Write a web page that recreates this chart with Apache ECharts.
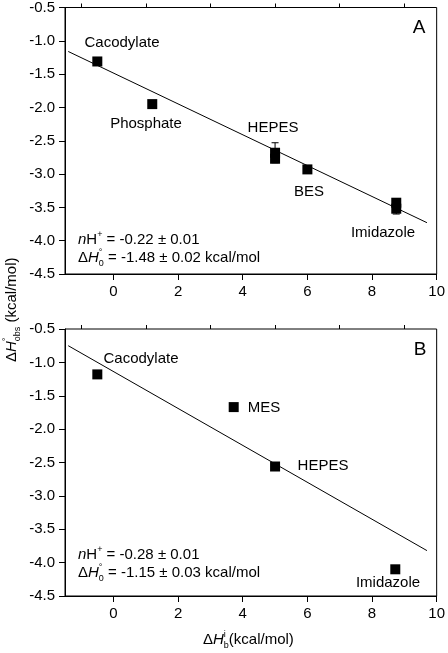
<!DOCTYPE html>
<html><head><meta charset="utf-8">
<script src="https://cdn.jsdelivr.net/npm/echarts@6/dist/echarts.min.js"></script>
<style>html,body{margin:0;padding:0;background:#fff}#c{width:448px;height:653px}</style>
</head><body><div id="c"></div>
<script>
// ---- data ----
const xTickValues = [0, 2, 4, 6, 8, 10];
const xMinorValues = [-1, 1, 3, 5, 7, 9];
const yTickMin = -4.5, yTickMax = -0.5, yTickStep = 0.5;
const xMin = -1.5, xMax = 10;

const namesA = ['Cacodylate', 'Phosphate', 'HEPES', 'HEPES', 'BES', 'Imidazole', 'Imidazole'];
const xA = [-0.5, 1.2, 5.0, 5.0, 6.0, 8.75, 8.75];
const yA = [-1.31, -1.95, -2.68, -2.77, -2.93, -3.43, -3.52];
const errA = [0, 0, 0.15, 0, 0, 0, 0.08];
const fitAx = [-1.4, 9.7];
const fitAy = [-1.16, -3.73];

const namesB = ['Cacodylate', 'MES', 'HEPES', 'Imidazole'];
const xB = [-0.5, 3.72, 5.0, 8.72];
const yB = [-1.18, -1.67, -2.56, -4.10];
const errB = [0, 0, 0, 0];
const fitBx = [-1.4, 9.7];
const fitBy = [-0.75, -3.82];

// ---- helpers ----
const FONT = '"Liberation Sans", Arial, sans-serif';
const FS = 15, SUB = 9;
const ctx = document.createElement('canvas').getContext('2d');
function measure(t, size, it) { ctx.font = (it ? 'italic ' : '') + size + 'px ' + FONT; return ctx.measureText(t).width; }
function mathGroup(x, y, pieces, base, rotation) {
  let cx = 0, held = 0; const children = [];
  for (const p of pieces) {
    const size = p.size || base;
    const w = measure(p.t, size, p.it);
    children.push({ type: 'text', x: cx, y: p.dy || 0,
      style: { text: p.t, font: (p.it ? 'italic ' : '') + size + 'px ' + FONT, fill: '#000', align: 'left', verticalAlign: 'middle' } });
    if (p.hold) { held = w; } else { cx += Math.max(w, held); held = 0; }
  }
  return { type: 'group', x: x, y: y, rotation: rotation || 0, children: children };
}
function plainText(x, y, t, size, align) {
  return { type: 'text', x: x, y: y, style: { text: t, font: (size || FS) + 'px ' + FONT, fill: '#000', align: align || 'center', verticalAlign: 'middle' } };
}
function pairs(xs, ys) { return xs.map((v, i) => [v, ys[i]]); }
function errData(xs, ys, es) { return xs.map((v, i) => [v, ys[i], es[i]]).filter(d => d[2] > 0); }

function errRender(params, api) {
  const x = api.value(0), y = api.value(1), e = api.value(2);
  const t = api.coord([x, y + e]), b = api.coord([x, y - e]);
  const cw = 3.5, st = { stroke: '#000', lineWidth: 1 };
  return { type: 'group', children: [
    { type: 'line', shape: { x1: t[0], y1: t[1], x2: b[0], y2: b[1] }, style: st },
    { type: 'line', shape: { x1: t[0] - cw, y1: t[1], x2: t[0] + cw, y2: t[1] }, style: st },
    { type: 'line', shape: { x1: b[0] - cw, y1: b[1], x2: b[0] + cw, y2: b[1] }, style: st }
  ] };
}

function xAxes(grid) {
  return [
    { type: 'value', gridIndex: grid, min: xMin, max: xMax,
      axisLine: { onZero: false, lineStyle: { color: '#000', width: 1 } },
      axisTick: { show: true, inside: false, length: 6, customValues: xTickValues, lineStyle: { color: '#000' } },
      axisLabel: { customValues: xTickValues, color: '#000', fontSize: FS, fontFamily: FONT, margin: 10 },
      splitLine: { show: false } },
    { type: 'value', gridIndex: grid, min: xMin, max: xMax,
      axisLine: { show: false, onZero: false },
      axisTick: { show: true, length: 4, customValues: xMinorValues, lineStyle: { color: '#000' } },
      axisLabel: { show: false },
      splitLine: { show: false } }
  ];
}
function yAxis(grid) {
  return { type: 'value', gridIndex: grid, min: yTickMin, max: yTickMax, interval: yTickStep,
    axisLine: { show: true, onZero: false, lineStyle: { color: '#000', width: 1 } },
    axisTick: { show: true, length: 6, lineStyle: { color: '#000' } },
    axisLabel: { color: '#000', fontSize: FS, fontFamily: FONT, margin: 10, formatter: v => v.toFixed(1) },
    splitLine: { show: false } };
}
const scatterStyle = { color: '#000', opacity: 1 };

const chart = echarts.init(document.getElementById('c'), null, { renderer: 'canvas' });
const option = {
  animation: false,
  backgroundColor: '#fff',
  grid: [
    { left: 65, top: 7, width: 374, height: 267, show: true, borderColor: '#000', borderWidth: 1, backgroundColor: 'transparent' },
    { left: 65, top: 329, width: 374, height: 267, show: true, borderColor: '#000', borderWidth: 1, backgroundColor: 'transparent' }
  ],
  xAxis: [].concat(xAxes(0), xAxes(1)),
  yAxis: [yAxis(0), yAxis(1)],
  series: [
    { type: 'line', xAxisIndex: 0, yAxisIndex: 0, data: pairs(fitAx, fitAy), showSymbol: false, lineStyle: { color: '#000', width: 1 }, z: 2 },
    { type: 'custom', xAxisIndex: 0, yAxisIndex: 0, data: errData(xA, yA, errA), renderItem: errRender, z: 2 },
    { type: 'scatter', xAxisIndex: 0, yAxisIndex: 0, data: pairs(xA, yA), symbol: 'rect', symbolSize: 10, itemStyle: scatterStyle, z: 3 },
    { type: 'line', xAxisIndex: 2, yAxisIndex: 1, data: pairs(fitBx, fitBy), showSymbol: false, lineStyle: { color: '#000', width: 1 }, z: 2 },
    { type: 'custom', xAxisIndex: 2, yAxisIndex: 1, data: errData(xB, yB, errB), renderItem: errRender, z: 2 },
    { type: 'scatter', xAxisIndex: 2, yAxisIndex: 1, data: pairs(xB, yB), symbol: 'rect', symbolSize: 10, itemStyle: scatterStyle, z: 3 }
  ],
  graphic: [
    plainText(419, 28, 'A', 19),
    plainText(420, 350, 'B', 19),
    // panel A labels
    plainText(122, 43, namesA[0]),
    plainText(146, 124, namesA[1]),
    plainText(273, 128, namesA[2]),
    plainText(309, 192, namesA[4]),
    plainText(383, 233, namesA[5]),
    // panel B labels
    plainText(141, 359, namesB[0]),
    plainText(264, 408, namesB[1]),
    plainText(323, 466, namesB[2]),
    plainText(388, 583, namesB[3]),
    // fit annotations
    mathGroup(78, 240, [{ t: 'n', it: true }, { t: 'H' }, { t: '+', size: SUB, dy: -5 }, { t: ' = -0.22 ± 0.01' }], FS),
    mathGroup(78, 258, [{ t: 'Δ' }, { t: 'H', it: true }, { t: '0', size: SUB, dy: 6, hold: true }, { t: '°', size: SUB, dy: -5 }, { t: ' = -1.48 ± 0.02 kcal/mol' }], FS),
    mathGroup(78, 555, [{ t: 'n', it: true }, { t: 'H' }, { t: '+', size: SUB, dy: -5 }, { t: ' = -0.28 ± 0.01' }], FS),
    mathGroup(78, 573, [{ t: 'Δ' }, { t: 'H', it: true }, { t: '0', size: SUB, dy: 6, hold: true }, { t: '°', size: SUB, dy: -5 }, { t: ' = -1.15 ± 0.03 kcal/mol' }], FS),
    // axis titles
    mathGroup(203, 640, [{ t: 'Δ' }, { t: 'H', it: true }, { t: 'b', size: SUB, dy: 6, hold: true }, { t: 'i', size: SUB, dy: -5 }, { t: '(kcal/mol)' }], FS),
    mathGroup(12, 362, [{ t: 'Δ' }, { t: 'H', it: true }, { t: 'obs', size: SUB, dy: 6, hold: true }, { t: '°', size: SUB, dy: -5 }, { t: ' (kcal/mol)' }], FS, Math.PI / 2)
  ]
};
chart.setOption(option);
</script></body></html>
